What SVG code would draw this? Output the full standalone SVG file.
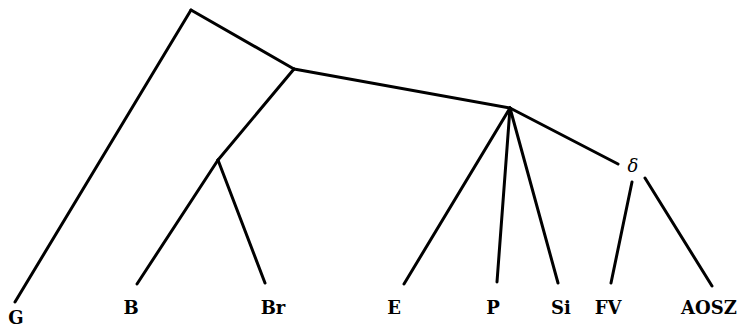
<svg xmlns="http://www.w3.org/2000/svg" width="741" height="328" viewBox="0 0 741 328">
<style>
.e{stroke:#000;stroke-width:3;stroke-linecap:round;fill:none}
.t{font-family:"DejaVu Serif","Liberation Serif",serif;font-size:18px;font-weight:bold;fill:#000;text-anchor:middle}
.d{font-family:"DejaVu Serif","Liberation Serif",serif;font-size:18px;font-style:italic;fill:#000;text-anchor:middle}
</style>
<rect width="741" height="328" fill="#fff"/>
<g id="connectors">
<line class="e" x1="191" y1="10" x2="15" y2="302"/>
<line class="e" x1="191" y1="10" x2="294" y2="69"/>
<line class="e" x1="294" y1="69" x2="218" y2="160"/>
<line class="e" x1="218" y1="160" x2="137" y2="284"/>
<line class="e" x1="218" y1="160" x2="265" y2="283"/>
<line class="e" x1="294" y1="69" x2="510" y2="108"/>
<line class="e" x1="510" y1="108" x2="404" y2="284"/>
<line class="e" x1="510" y1="108" x2="497" y2="282"/>
<line class="e" x1="510" y1="108" x2="558" y2="283"/>
<line class="e" x1="510" y1="108" x2="618" y2="164"/>
<line class="e" x1="632" y1="182" x2="611" y2="283"/>
<line class="e" x1="645" y1="178" x2="712" y2="286"/>
</g>
<g id="node-delta"><text class="d" x="633" y="172">δ</text></g>
<g id="node-G"><text class="t" x="16" y="324">G</text></g>
<g id="node-B"><text class="t" x="131" y="314">B</text></g>
<g id="node-Br"><text class="t" x="273" y="314">Br</text></g>
<g id="node-E"><text class="t" x="394" y="314">E</text></g>
<g id="node-P"><text class="t" x="493" y="314">P</text></g>
<g id="node-Si"><text class="t" x="561" y="314">Si</text></g>
<g id="node-FV"><text class="t" x="608" y="314">FV</text></g>
<g id="node-AOSZ"><text class="t" x="709" y="314">AOSZ</text></g>
</svg>
